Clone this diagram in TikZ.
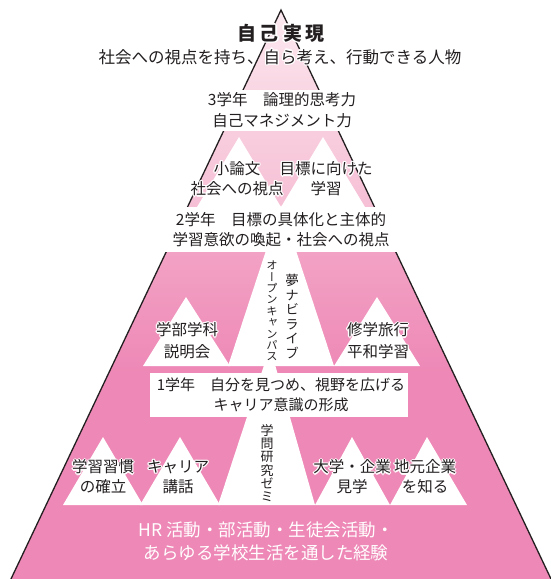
\documentclass[tikz,border=0pt]{standalone}
\usepackage{fontspec}
\setmainfont{Noto Sans CJK JP}
\newfontfamily\vfont[RawFeature=+vert]{Noto Sans CJK JP}
\definecolor{ink}{HTML}{231F20}
\definecolor{pkA}{HTML}{FDEDF3}
\definecolor{pkB}{HTML}{F9D6E3}
\definecolor{pkC}{HTML}{F6BFD5}
\definecolor{pkD}{HTML}{F4ACCA}
\definecolor{pkE}{HTML}{EE88B6}
\newcommand\halo[1]{\leavevmode\begingroup
  \def\hh##1##2{\rlap{\kern##1\raisebox{##2}{\color{white}#1}}}%
  \hh{1.3pt}{0pt}\hh{-1.3pt}{0pt}\hh{0pt}{1.3pt}\hh{0pt}{-1.3pt}%
  \hh{0.9pt}{0.9pt}\hh{-0.9pt}{0.9pt}\hh{0.9pt}{-0.9pt}\hh{-0.9pt}{-0.9pt}%
  #1\endgroup}
\tikzset{
  lbl/.style={inner sep=0pt, text=ink, align=center, font=\fontsize{15.5}{20}\selectfont},
  vlbl/.style={inner sep=0pt, text=ink, align=center},
  wshape/.style={fill=white},
  edge/.style={draw=ink, line width=1.3pt, line join=miter},
}
\begin{document}
\begin{tikzpicture}[x=1pt,y=-1pt]
\useasboundingbox (0,0) rectangle (550,579);
\coordinate (A) at (281,10);
\coordinate (L) at (8.6,584);
\coordinate (R) at (553.4,584);
% pink body
\begin{scope}
  \clip (L) -- (A) -- (R) -- cycle;
  \shade[top color=pkA, bottom color=pkB] (0,0) rectangle (550,90);
  \shade[top color=pkB, bottom color=pkC] (0,90) rectangle (550,207);
  \shade[top color=pkD, bottom color=pkE] (0,207) rectangle (550,373);
  \fill[pkE] (0,372) rectangle (550,590);
\end{scope}
\draw[edge] (L) -- (A) -- (R);
% white triangles, upper zone
\fill[wshape] (239,137) -- (197,207) -- (281,207) -- cycle;
\fill[wshape] (323,137) -- (281,207) -- (365,207) -- cycle;
% middle zone
\fill[wshape] (186,297) -- (143,366) -- (230,366) -- cycle;
\fill[wshape] (281,205) -- (228,366) -- (334,366) -- cycle;
\fill[wshape] (377,297) -- (334,366) -- (420,366) -- cycle;
% lower zone
\fill[wshape] (103,437) -- (63,505) -- (143,505) -- cycle;
\fill[wshape] (180,437) -- (140,505) -- (220,505) -- cycle;
\fill[wshape] (270,347) -- (218,505) -- (315,505) -- cycle;
\fill[wshape] (352,437) -- (315,505) -- (390,505) -- cycle;
\fill[wshape] (427,437) -- (390,505) -- (467,505) -- cycle;
% bands
\fill[wshape] (195,90) rectangle (370,131);
\fill[wshape] (160,207) rectangle (402,252);
\fill[wshape] (150,373) rectangle (408,417);
% top texts
\node[lbl, font=\bfseries\fontsize{19}{21}\selectfont] (top) at (281,33)
  {\halo{自\kern4pt 己\kern4pt 実\kern4pt 現}};
\node[lbl, font=\fontsize{16.5}{20}\selectfont] (topsub) at (280,57)
  {\halo{社会への視点を持ち、自ら考え、行動できる人物}};
% band texts
\node[lbl, font=\fontsize{15.5}{21}\selectfont] (b3) at (282,110.5)
  {3学年　論理的思考力\\自己マネジメント力};
\node[lbl] (b2) at (281,230)
  {2学年　目標の具体化と主体的\\学習意欲の喚起・社会への視点};
\node[lbl, font=\fontsize{15}{20}\selectfont] (b1) at (281,395)
  {1学年　自分を見つめ、視野を広げる\\キャリア意識の形成};
% upper triangle labels
\node[lbl] (u1) at (237,179) {\halo{小論文}\\\halo{社会への視点}};
\node[lbl] (u2) at (326,179) {\halo{目標に向けた}\\\halo{学習}};
% middle triangle labels
\node[lbl, font=\fontsize{15.5}{22}\selectfont] (m1) at (187,341) {\halo{学部学科}\\\halo{説明会}};
\node[lbl, font=\fontsize{15.5}{22}\selectfont] (m2) at (378,341) {\halo{修学旅行}\\\halo{平和学習}};
\node[vlbl, font={\vfont\fontsize{13.5}{14.5}\selectfont\lineskiplimit=-20pt}] (v1) at (292,316.5)
  {夢\\ナ\\ビ\\ラ\\イ\\ブ};
\node[vlbl, font={\vfont\fontsize{11.3}{11.4}\selectfont\lineskiplimit=-20pt}] (v2) at (272,311)
  {オ\\ー\\プ\\ン\\キ\\ャ\\ン\\パ\\ス};
% lower triangle labels
\node[lbl] (l1) at (103,477) {\halo{学習習慣}\\\halo{の確立}};
\node[lbl] (l2) at (178,477) {\halo{キャリア}\\\halo{講話}};
\node[vlbl, font={\vfont\fontsize{13}{13.3}\selectfont\lineskiplimit=-20pt}] (v3) at (267,463)
  {学\\問\\研\\究\\ゼ\\ミ};
\node[lbl] (l3) at (352,477) {\halo{大学・企業}\\\halo{見学}};
\node[lbl] (l4) at (425,477) {\halo{地元企業}\\\halo{を知る}};
% base text
\node[lbl, text=white, font=\fontsize{17.5}{23}\selectfont] (base) at (266,541.5)
  {HR 活動・部活動・生徒会活動・\\あらゆる学校生活を通した経験};
\end{tikzpicture}
\end{document}
